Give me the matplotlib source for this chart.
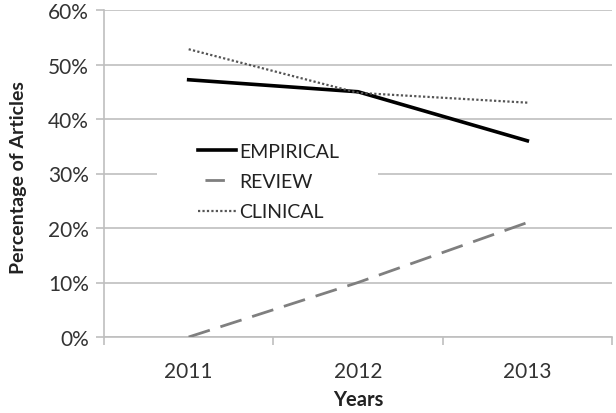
import matplotlib
matplotlib.use("Agg")
import matplotlib.pyplot as plt
from matplotlib.patches import Rectangle
from matplotlib.lines import Line2D
from matplotlib.ticker import FixedLocator, FuncFormatter

years = ["2011", "2012", "2013"]
empirical = [47.2, 45.0, 36.0]
review = [0.0, 10.0, 21.0]
clinical = [52.8, 44.8, 43.0]
yticks = [0, 10, 20, 30, 40, 50, 60]

plt.rcParams['font.family'] = ['Lato', 'DejaVu Sans']

fig = plt.figure(figsize=(6.16, 4.14), dpi=100)
ax = fig.add_axes([104/616, 1 - 338/414, (612-104)/616, (338-11)/414])

x = list(range(len(years)))
grid_c = "#bfbfbf"
ax.set_ylim(0, 60)
ax.set_xlim(-0.5, len(years) - 0.5)
ax.set_yticks(yticks)
ax.yaxis.set_major_formatter(FuncFormatter(lambda v, p: f"{int(v)}%"))
ax.yaxis.grid(True, color=grid_c, lw=1.2, zorder=0)
ax.set_axisbelow(True)

ax.set_xticks(x)
ax.set_xticklabels(years)
ax.xaxis.set_minor_locator(FixedLocator([i - 0.5 for i in range(len(years) + 1)]))
ax.tick_params(axis='x', which='major', length=0, pad=17, labelsize=15, colors='#333333')
ax.tick_params(axis='x', which='minor', length=6, width=1.2, color=grid_c)
ax.tick_params(axis='y', length=6, width=1.2, color=grid_c, labelsize=15, pad=5, labelcolor='#333333')

for s in ['top', 'right']:
    ax.spines[s].set_visible(False)
for s in ['left', 'bottom']:
    ax.spines[s].set_color(grid_c)
    ax.spines[s].set_linewidth(1.2)

ax.plot(x, empirical, color='black', lw=2.6, zorder=3)
ax.plot(x, review, color='#7f7f7f', lw=2.0, dashes=(8, 4), zorder=3)
ax.plot(x, clinical, color='#555555', lw=1.6, linestyle=(0, (1, 1)), zorder=3)

# white area behind legend (hides grid line, as in the reference)
ax.add_patch(Rectangle(((157-104)/508, (338-226)/327), (378-157)/508, (226-140)/327,
                       transform=ax.transAxes, facecolor='white', edgecolor='none', zorder=1))

handles = [
    Line2D([], [], color='black', lw=2.6),
    Line2D([], [], color='#7f7f7f', lw=2.0, linestyle=(11.5, (7, 7))),
    Line2D([], [], color='#555555', lw=1.6, linestyle=(0, (1, 1))),
]
labels = ['EMPIRICAL', 'REVIEW', 'CLINICAL']
leg = ax.legend(handles, labels, loc='upper left',
                bbox_to_anchor=((198-104)/508, (338-144)/327),
                frameon=False, fontsize=14, handlelength=1.95, handletextpad=0.15,
                labelspacing=0.68, borderpad=0, borderaxespad=0)
for t in leg.get_texts():
    t.set_color('#222222')

ax.set_xlabel("Years", fontsize=14.5, fontweight='bold', labelpad=6, color='#222222')
ax.set_ylabel("Percentage of Articles", fontsize=14, fontweight='bold', color='#222222')
ax.yaxis.set_label_coords((27-104)/508, (338-178)/327)

fig.savefig("out.png", dpi=100)
